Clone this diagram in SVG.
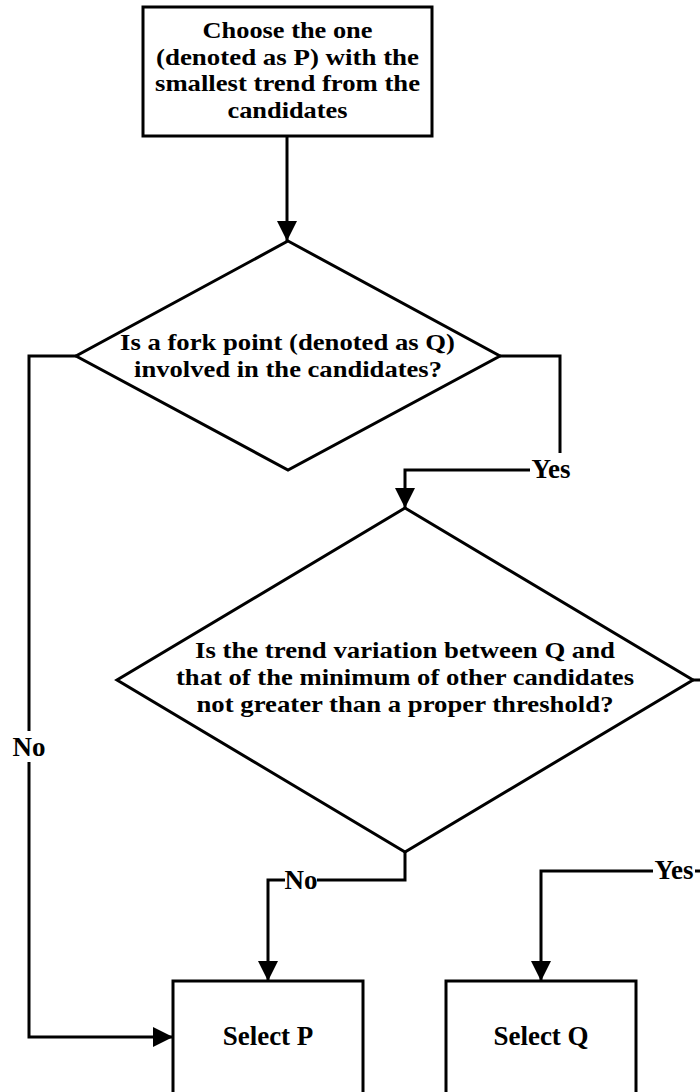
<svg xmlns="http://www.w3.org/2000/svg" width="700" height="1092" viewBox="0 0 700 1092">
  <style>
    .shape { fill: #ffffff; stroke: #000000; stroke-width: 3; }
    .line { fill: none; stroke: #000000; stroke-width: 3; }
    .txt { font-family: "Liberation Serif", "Times New Roman", serif; font-weight: bold; font-size: 27px; fill: #000000; text-anchor: middle; }
    .ml { font-size: 24px; }
    .lblbg { fill: #ffffff; stroke: none; }
  </style>
  <defs>
    <marker id="arrow" markerUnits="userSpaceOnUse" markerWidth="20" markerHeight="20" viewBox="0 0 20 20" refX="20" refY="10" orient="auto">
      <path d="M0,0 L20,10 L0,20 Z" fill="#000000"/>
    </marker>
  </defs>
  <rect width="700" height="1092" fill="#ffffff"/>

  <g id="connectors">
    <path class="line" d="M287,136 L287,241" marker-end="url(#arrow)"/>
    <path class="line" d="M76,356 L29,356 L29,1037 L173,1037" marker-end="url(#arrow)"/>
    <path class="line" d="M500,356 L560,356 L560,470 L405,470 L405,508" marker-end="url(#arrow)"/>
    <path class="line" d="M405,852 L405,880 L268,880 L268,981" marker-end="url(#arrow)"/>
    <path class="line" d="M693,680 L712,680 L712,871 L541,871 L541,981" marker-end="url(#arrow)"/>
    <g id="label-no-left">
      <rect class="lblbg" x="12" y="731" width="34" height="31"/>
      <text class="txt" x="29" y="756">No</text>
    </g>
    <g id="label-yes-1">
      <rect class="lblbg" x="530" y="453" width="42" height="32"/>
      <text class="txt" x="551" y="478">Yes</text>
    </g>
    <g id="label-no-2">
      <rect class="lblbg" x="285" y="865" width="32" height="30"/>
      <text class="txt" x="301" y="889">No</text>
    </g>
    <g id="label-yes-2">
      <rect class="lblbg" x="653" y="855" width="42" height="30"/>
      <text class="txt" x="674" y="879">Yes</text>
    </g>
  </g>

  <g id="start">
    <rect class="shape" x="143" y="7" width="289" height="129"/>
    <text class="txt ml" x="287.5" y="38" textLength="170" lengthAdjust="spacingAndGlyphs">Choose the one</text>
    <text class="txt ml" x="287.5" y="64.5" textLength="263" lengthAdjust="spacingAndGlyphs">(denoted as P) with the</text>
    <text class="txt ml" x="287.5" y="91" textLength="265" lengthAdjust="spacingAndGlyphs">smallest trend from the</text>
    <text class="txt ml" x="287.5" y="117.5" textLength="120" lengthAdjust="spacingAndGlyphs">candidates</text>
  </g>

  <g id="decision1">
    <polygon class="shape" points="288,241 500,356 288,470 76,356"/>
    <text class="txt ml" x="287.5" y="350" textLength="335" lengthAdjust="spacingAndGlyphs">Is a fork point (denoted as Q)</text>
    <text class="txt ml" x="288" y="377" textLength="308" lengthAdjust="spacingAndGlyphs">involved in the candidates?</text>
  </g>

  <g id="decision2">
    <polygon class="shape" points="405,508 693,680 405,852 117,680"/>
    <text class="txt ml" x="405" y="658" textLength="420" lengthAdjust="spacingAndGlyphs">Is the trend variation between Q and</text>
    <text class="txt ml" x="405" y="685" textLength="458" lengthAdjust="spacingAndGlyphs">that of the minimum of other candidates</text>
    <text class="txt ml" x="405" y="712" textLength="417" lengthAdjust="spacingAndGlyphs">not greater than a proper threshold?</text>
  </g>

  <g id="selectP">
    <rect class="shape" x="173" y="981" width="190" height="130"/>
    <text class="txt" x="268" y="1045">Select P</text>
  </g>

  <g id="selectQ">
    <rect class="shape" x="446" y="981" width="190" height="130"/>
    <text class="txt" x="541" y="1045">Select Q</text>
  </g>
</svg>
